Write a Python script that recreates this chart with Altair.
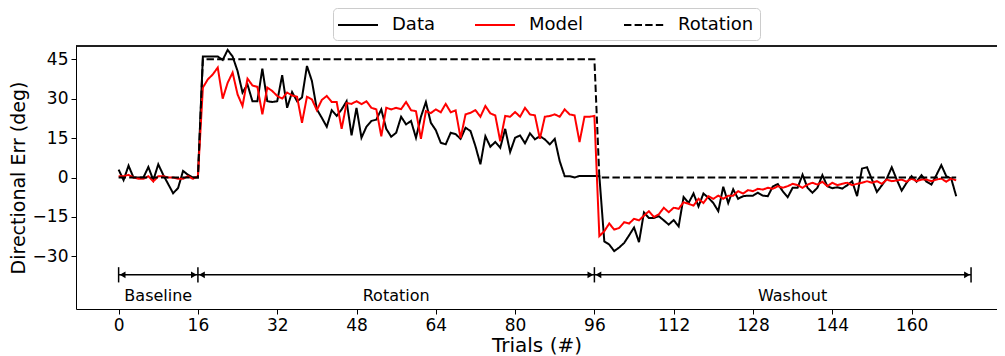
import altair as alt
import pandas as pd

trials = list(range(170))

data_err = [
    3, -1, 4.5, 0, 0, 0, 4, -1, 5, 1, -2.5, -6, -4, 2.5, 1, 0, 0,
    46, 46, 46, 46, 44.7, 48.5, 46, 40.5, 32.3, 35.4, 29, 29, 41.4, 29, 28.7, 29, 38.9,
    26.5, 32.5, 29, 30.4, 42.4, 36.7, 25.9, 22.7, 19.3, 25.6, 23.4, 25.9, 29, 16, 26.5,
    15.1, 19.3, 21.5, 22, 25.9, 18.5, 15.5, 17, 23.1, 20.2, 21.5, 15.1, 23.1, 28.7, 20.8,
    18, 13.2, 12.6, 17, 16.5,
    14.7, 18.9, 17.7, 11.9, 5, 15.7, 11.7, 13.5, 11.3, 18.5, 9.7, 15.1, 16, 13, 16.8,
    14.5, 15.7, 14.5, 12.6, 14.7, 6.2, 0.5, 0.5, 0, 0.6, 0.6, 0.6, 0.6, 0.5,
    -24.3, -25.5, -28, -26.6, -24.9, -22, -19, -24.6, -13.3, -15.4, -15.4, -14.7, -16.3,
    -17.9, -16.2, -18.6, -7.4, -9.7, -6.1, -11, -6.1, -7.7, -9.7, -12.8, -3.5, -9.7, -4.5,
    -8.1, -7.1, -6.9, -6.9, -5.8, -6.9, -7.1, -3.4, -2.5,
    -5.2, -7.5, -3.9, -3.9, 1.1, -3.9, -5.8, -3.9, 0.9, -3.3, -4.1, -3.7, -4.2, -3, -1.4,
    -7.1, 3.4, 3.9, -0.8, -5.5, -3, -0.4, 3.9, -0.8, -5, -2, 0.5, -1.6, 0.9, -1.6, -2.7,
    0.9, 4.7, 0.5, -0.4, -7.1,
]

model_err = [
    0.5, 0.5, 1, 0, -0.5, -0.5, 0.5, -1.5, 0.5, 0.5, 0, 0, -0.5, -0.5, 0.5, -0.5, 0.5,
    34.2, 37.3, 39.2, 41.8, 30, 36, 39.9, 31.6, 27.2, 37.6, 35, 34.5, 24, 34.2, 32.9, 31, 30,
    32.3, 31.2, 30.7, 20.8, 30.7, 29.7, 25.6, 29.5, 31, 28.7, 28.7, 18.5, 28.3, 28, 29,
    27.9, 29, 26.5, 25.9, 15.7, 26.5, 25.9, 26.5, 26, 28.7, 25.6, 25.2, 14.7, 25.2, 24.5,
    25.9, 24.8, 28, 24.8, 25.5,
    15, 24, 24.6, 25.6, 23.1, 27.2, 24.4, 23.6, 13.8, 23.4, 23.1, 24.9, 23.1, 26.5, 24,
    23.6, 14.7, 23.1, 23.4, 24, 23.1, 25.9, 24, 23.6, 13.5, 23.1, 23.1, 23.4,
    -22.3, -20.4, -17.5, -19.8, -19.2, -17, -17.5, -15.7, -16.3, -14.5, -12.8, -15, -14,
    -11.5, -13.2, -11.5, -11.9, -9.4, -10, -10.7, -8.1, -9.7, -7.1, -8.1, -6.9, -8.1, -6.9,
    -6.9, -5.2, -6.1, -4.8, -5.2, -4.3, -4.6, -3.9, -4.3, -3.3, -3.9,
    -3.3, -2.4, -2.9, -3.9, -2.7, -2.0, -2.7, -1.6, -3.3, -2.0, -2.9, -2.4, -2.0, -2.9,
    -2.4, -2.0, -1.4, -2.0, -1.4, -2.4, -0.8, -1.4, -1.1, -0.8, -1.6, -0.4, -1.4, -0.8,
    -0.8, -1.4, -0.8, -0.4, -1.6, -0.4, -1.1,
]

rot_trials = [0, 16, 17, 96, 97, 169]
rot_values = [0, 0, 45, 45, 0, 0]

series_names = ["Data", "Model", "Rotation"]
series_colors = ["black", "#ff0000", "black"]

phase_names = ["Baseline", "Rotation", "Washout"]
phase_start = [0, 16, 96]
phase_end = [16, 96, 172]
phase_label_x = [8, 56, 136]
bar_x = [0, 16, 96, 172]
arrow_y = -37
label_y = -45
bar_half = 2.9

x_ticks = [0, 16, 32, 48, 64, 80, 96, 112, 128, 144, 160]
y_ticks = [-30, -15, 0, 15, 30, 45]

W, H = 921, 263
PX_PER_TRIAL = 4.956
x_min = -8.6
x_max = x_min + W / PX_PER_TRIAL

lines_df = pd.concat([
    pd.DataFrame({"trial": trials, "err": data_err, "series": "Data"}),
    pd.DataFrame({"trial": trials, "err": model_err, "series": "Model"}),
    pd.DataFrame({"trial": rot_trials, "err": rot_values, "series": "Rotation"}),
], ignore_index=True)

phase_df = pd.DataFrame({
    "name": phase_names, "start": phase_start, "end": phase_end,
    "lx": phase_label_x, "ay": [arrow_y] * 3, "ly": [label_y] * 3,
})
bars_df = pd.DataFrame({"bx": bar_x, "y1": [arrow_y - bar_half] * 4, "y2": [arrow_y + bar_half] * 4})

xscale = alt.Scale(domain=[x_min, x_max], nice=False, zero=False)
yscale = alt.Scale(domain=[-50, 50], nice=False, zero=False)

x_axis = alt.Axis(values=x_ticks, title="Trials (#)", grid=False, tickSize=5,
                  labelPadding=3, titlePadding=2, labelFlush=False)
y_axis = alt.Axis(values=y_ticks, title="Directional Err (deg)", grid=False, tickSize=5,
                  labelPadding=3, titlePadding=4, titleFontSize=19,
                  labelExpr="replace(datum.label, '-', '\u2212')")

legend = alt.Legend(title=None, orient="none", legendX=257, legendY=-38,
                    direction="horizontal", symbolType="M-2,0L2,0", symbolSize=400,
                    symbolOffset=8, symbolStrokeWidth=2, labelFontSize=18, labelOffset=23,
                    columnPadding=36, padding=6, fillColor="white",
                    strokeColor="#cccccc", cornerRadius=4, labelColor="black")

color = alt.Color("series:N", scale=alt.Scale(domain=series_names, range=series_colors), legend=legend)
dash = alt.StrokeDash("series:N", scale=alt.Scale(domain=series_names, range=[[1, 0], [1, 0], [7.4, 3.2]]), legend=legend)

def line_layer(name):
    return alt.Chart(lines_df).transform_filter(alt.datum.series == name).mark_line(strokeWidth=2).encode(
        x=alt.X("trial:Q", scale=xscale, axis=x_axis),
        y=alt.Y("err:Q", scale=yscale, axis=y_axis),
        color=color, strokeDash=dash, order="trial:Q",
    )

X = lambda f: alt.X(f, type="quantitative", scale=xscale, axis=x_axis)
Y = lambda f: alt.Y(f, type="quantitative", scale=yscale, axis=y_axis)

shafts = alt.Chart(phase_df).mark_rule(color="black", strokeWidth=1.5).encode(
    x=X("start"), x2="end", y=Y("ay"))
bars = alt.Chart(bars_df).mark_rule(color="black", strokeWidth=1.5).encode(
    x=X("bx"), y=Y("y1"), y2="y2")
left_heads = alt.Chart(phase_df).mark_point(shape="triangle-left", filled=True, color="black",
                                            size=45, opacity=1, xOffset=4).encode(x=X("start"), y=Y("ay"))
right_heads = alt.Chart(phase_df).mark_point(shape="triangle-right", filled=True, color="black",
                                             size=45, opacity=1, xOffset=-4).encode(x=X("end"), y=Y("ay"))
labels = alt.Chart(phase_df).mark_text(fontSize=16, color="black", baseline="middle").encode(
    x=X("lx"), y=Y("ly"), text="name:N")

top_spine = alt.Chart(phase_df).mark_rule(color="black", strokeWidth=1).encode(
    x=alt.value(0), x2=alt.value(W), y=alt.value(0))

chart = alt.layer(
    line_layer("Data"), line_layer("Model"), line_layer("Rotation"),
    shafts, bars, left_heads, right_heads, labels, top_spine,
).properties(
    width=W, height=H,
    padding={"left": 68, "top": 38, "right": 0, "bottom": 47},
    autosize=alt.AutoSizeParams(type="none"),
).configure(font="DejaVu Sans").configure_view(stroke=None).configure_axis(
    labelFontSize=17, titleFontSize=20, titleFontWeight="normal",
    labelColor="black", titleColor="black", domainColor="black", tickColor="black",
    domainWidth=1, tickWidth=1, labelFont="DejaVu Sans", titleFont="DejaVu Sans",
).configure_legend(labelFont="DejaVu Sans")

chart.save("out.html", embed_options={"renderer": "svg", "actions": False})
